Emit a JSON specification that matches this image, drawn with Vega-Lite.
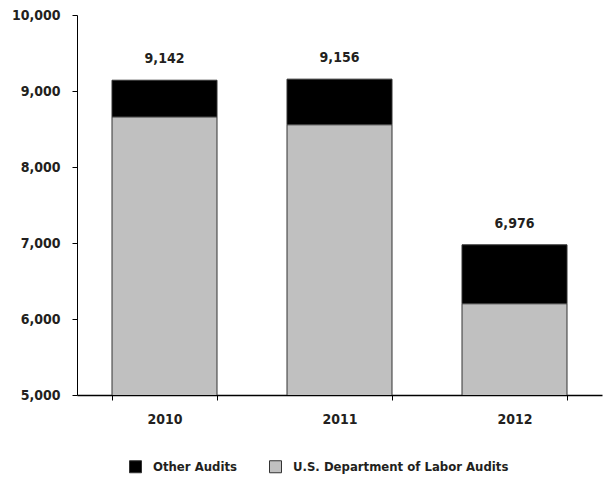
{
  "$schema": "https://vega.github.io/schema/vega-lite/v6.json",
  "autosize": {"type": "none"},
  "width": 525,
  "height": 380,
  "padding": {"left": 77, "top": 15, "right": 7, "bottom": 82},
  "background": "white",
  "config": {
    "view": {"stroke": null},
    "font": "DejaVu Sans Condensed",
    "axis": {"labelFont": "DejaVu Sans Condensed", "labelFontWeight": "bold", "labelColor": "#231f20", "domainColor": "#000", "tickColor": "#000", "grid": false, "title": null},
    "legend": {"labelFont": "DejaVu Sans Condensed", "labelFontWeight": "bold", "labelColor": "#231f20"}
  },
  "data": {
    "values": [
      {"year": "2010", "type": "Other Audits", "value": 484},
      {"year": "2010", "type": "U.S. Department of Labor Audits", "value": 8658},
      {"year": "2011", "type": "Other Audits", "value": 601},
      {"year": "2011", "type": "U.S. Department of Labor Audits", "value": 8555},
      {"year": "2012", "type": "Other Audits", "value": 776},
      {"year": "2012", "type": "U.S. Department of Labor Audits", "value": 6200}
    ]
  },
  "encoding": {
    "x": {
      "field": "year", "type": "nominal",
      "scale": {"paddingInner": 0.4, "paddingOuter": 0.2},
      "axis": {"labelAngle": 0, "labelFontSize": 14, "labelPadding": 12, "tickBand": "extent", "tickSize": 5, "domainWidth": 1.5}
    },
    "y": {
      "field": "value", "type": "quantitative", "aggregate": "sum",
      "scale": {"domain": [5000, 10000], "nice": false, "zero": false},
      "axis": {"tickCount": 5, "format": ",.0f", "labelFontSize": 14, "labelPadding": 12, "tickSize": 5}
    }
  },
  "layer": [
    {
      "mark": {"type": "bar", "stroke": "#333", "strokeWidth": 1, "clip": true},
      "encoding": {
        "color": {
          "field": "type", "type": "nominal",
          "scale": {"domain": ["Other Audits", "U.S. Department of Labor Audits"], "range": ["#000000", "#c0c0c0"]},
          "legend": {
            "title": null, "orient": "none", "direction": "horizontal",
            "legendX": 52, "legendY": 445,
            "symbolType": "square", "symbolSize": 144, "symbolStrokeColor": "#333", "symbolStrokeWidth": 1, "symbolOpacity": 1,
            "labelFontSize": 13, "labelOffset": 11, "columnPadding": 30, "labelLimit": 400
          }
        },
        "order": {"field": "type", "sort": "descending"}
      }
    },
    {
      "mark": {"type": "text", "fontSize": 14, "fontWeight": "bold", "color": "#231f20", "dy": -17, "baseline": "alphabetic"},
      "encoding": {
        "text": {"field": "value", "type": "quantitative", "aggregate": "sum", "format": ","}
      }
    }
  ]
}
